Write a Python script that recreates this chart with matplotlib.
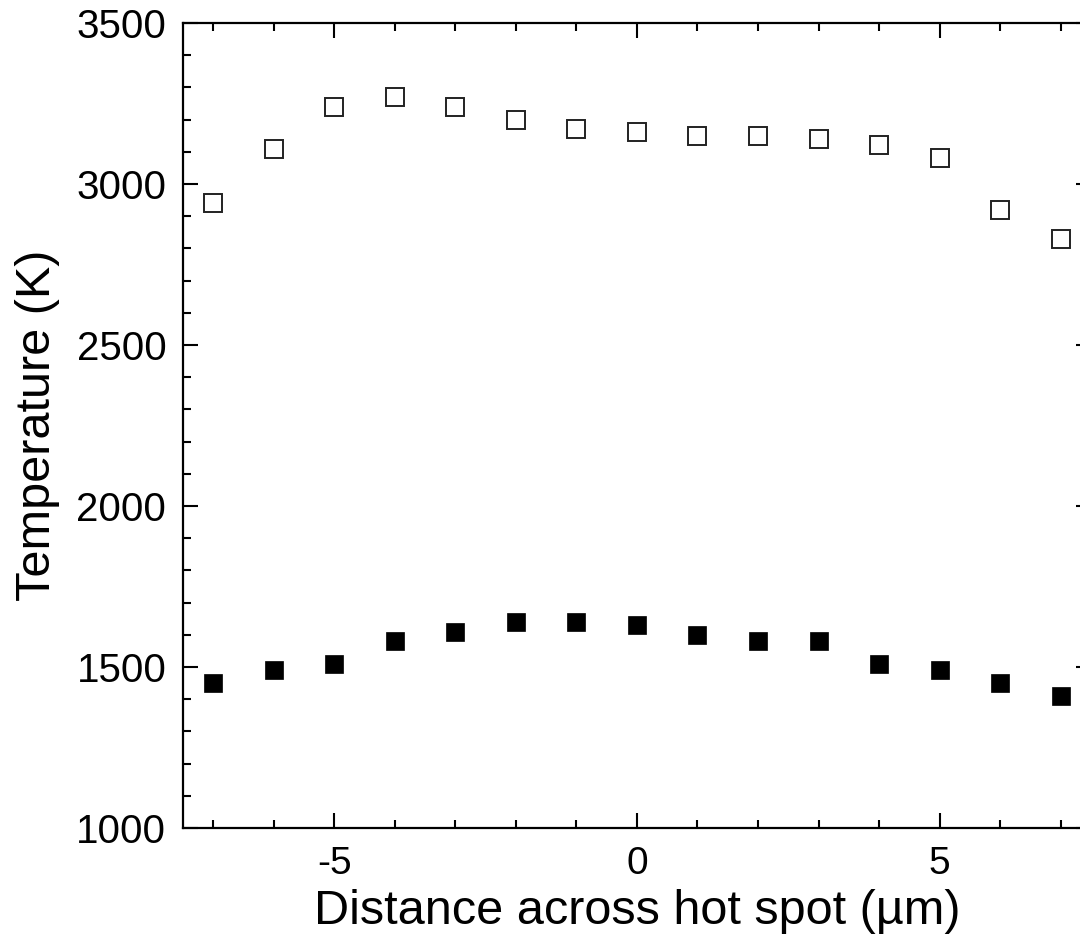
import matplotlib
matplotlib.use("Agg")
import matplotlib.pyplot as plt
from matplotlib.ticker import MultipleLocator

plt.rcParams['font.family'] = ['Liberation Sans', 'DejaVu Sans']
plt.rcParams['axes.unicode_minus'] = False

# distance across hot spot (um)
dist = [-7, -6, -5, -4, -3, -2, -1, 0, 1, 2, 3, 4, 5, 6, 7]
# open squares
t_open = [2940, 3110, 3240, 3270, 3240, 3200, 3170, 3160, 3150, 3150, 3140, 3120, 3080, 2920, 2830]
# filled squares
t_filled = [1450, 1490, 1510, 1580, 1610, 1640, 1640, 1630, 1600, 1580, 1580, 1510, 1490, 1450, 1410]

fig = plt.figure(figsize=(10.8, 9.44), dpi=100)
ax = fig.add_axes([0.1694, 0.1229, 0.8407, 0.8528])

ax.plot(dist, t_open, linestyle='none', marker='s', markersize=13,
        markerfacecolor='white', markeredgecolor='#222222', markeredgewidth=1.4)
ax.plot(dist, t_filled, linestyle='none', marker='s', markersize=13.5,
        markerfacecolor='black', markeredgecolor='black', markeredgewidth=0.5)

ax.set_xlim(-7.5, 7.5)
ax.set_ylim(1000, 3500)
ax.xaxis.set_major_locator(MultipleLocator(5))
ax.xaxis.set_minor_locator(MultipleLocator(1))
ax.yaxis.set_major_locator(MultipleLocator(500))
ax.yaxis.set_minor_locator(MultipleLocator(100))

ax.tick_params(which='both', direction='in', top=True, right=True, width=1.5,
               colors='black')
ax.tick_params(which='major', length=11)
ax.tick_params(which='minor', length=6)
ax.tick_params(axis='y', labelsize=29, pad=12)
ax.tick_params(axis='x', labelsize=28, pad=13)
for s in ax.spines.values():
    s.set_linewidth(1.6)

ax.set_xlabel('Distance across hot spot (µm)', fontsize=35, labelpad=5)
ax.set_ylabel('Temperature (K)', fontsize=35, labelpad=12)

fig.savefig('out.png', dpi=100)
